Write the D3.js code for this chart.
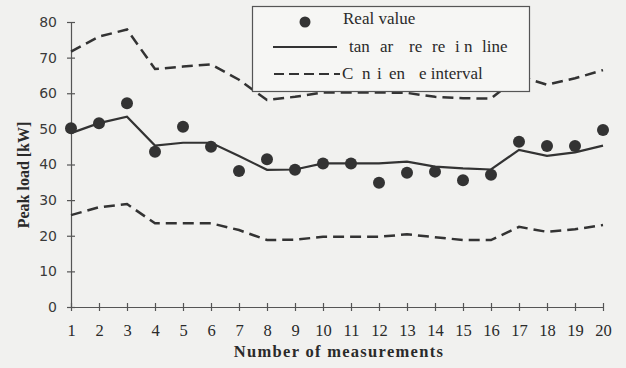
<!DOCTYPE html>
<html>
<head>
<meta charset="utf-8">
<script src="https://cdn.jsdelivr.net/npm/d3@7/dist/d3.min.js"></script>
<style>
  html, body { margin: 0; padding: 0; background: #f1f1ef; }
  svg { display: block; }
</style>
</head>
<body>
<svg id="chart" width="626" height="368"></svg>
<script>
// Measurement index 1..20
const measurements = d3.range(1, 21);
// Measured peak load [kW]
const realValue = [50.2, 51.6, 57.2, 43.6, 50.6, 45.0, 38.2, 41.5, 38.5, 40.3,
                   40.3, 34.9, 37.7, 38.0, 35.6, 37.1, 46.4, 45.2, 45.2, 49.7];
// Regression line
const regression = [48.8, 51.6, 53.4, 45.3, 46.1, 46.1, 42.4, 38.5, 38.6, 40.3,
                    40.3, 40.3, 40.8, 39.4, 38.9, 38.6, 44.1, 42.4, 43.4, 45.3];
// Confidence interval bounds
const upperBound = [71.7, 75.9, 77.9, 66.8, 67.5, 68.1, 63.8, 58.1, 59.0, 60.2,
                    60.2, 60.2, 60.1, 59.0, 58.6, 58.5, 64.8, 62.4, 64.2, 66.5];
const lowerBound = [25.8, 28.0, 28.9, 23.5, 23.5, 23.5, 21.6, 18.8, 18.9, 19.7,
                    19.7, 19.7, 20.4, 19.6, 18.8, 18.8, 22.5, 21.1, 21.8, 23.0];
const yTicks = [0, 10, 20, 30, 40, 50, 60, 70, 80];
// Legend entries, split into the word fragments that are printed
const legendLabels = [
  ["Real value"],
  ["tan", "ar", "re", "re", "i", "n", "line"],
  ["C", "n", "i", "en", "e interval"]
];
// x offsets of each fragment inside the legend
const fragmentX = [
  [343],
  [349, 380, 409, 432, 455, 464, 482],
  [342, 362, 377, 389, 419]
];

const serif = "Liberation Serif, DejaVu Serif, serif";
const svg = d3.select("#chart");
const ink = "#333";

const x = d3.scaleLinear().domain([1, 20]).range([71, 603]);
const y = d3.scaleLinear().domain([0, 80]).range([307, 22]);

// Axes
const xAxis = d3.axisBottom(x).tickValues(measurements).tickFormat(d3.format("d"))
  .tickSizeInner(4).tickSizeOuter(0).tickPadding(13);
const gx = svg.append("g").attr("transform", `translate(0,${y(0)})`).call(xAxis);
gx.selectAll(".tick line").attr("y1", -4).attr("y2", 4);
gx.selectAll(".tick text").attr("font-size", 16.5).attr("font-family", serif)
  .attr("fill", "#2a2a2a");

const yAxis = d3.axisLeft(y).tickValues(yTicks)
  .tickSizeInner(4).tickSizeOuter(0).tickPadding(10);
const gy = svg.append("g").attr("transform", `translate(${x(1)},0)`).call(yAxis);
gy.selectAll(".tick line").attr("x1", -4).attr("x2", 4);
gy.selectAll(".tick text").attr("font-size", 14).attr("font-family", "DejaVu Sans, sans-serif")
  .attr("fill", "#3a3a3a");

[gx, gy].forEach(g => {
  g.select(".domain").attr("stroke", "#555").attr("stroke-width", 1.2);
  g.selectAll(".tick line").attr("stroke", "#555").attr("stroke-width", 1.2);
});

// Axis titles
svg.append("text").attr("x", 339).attr("y", 357).attr("text-anchor", "middle")
  .attr("font-family", serif).attr("fill", "#2a2a2a")
  .attr("font-size", 16.5).attr("font-weight", "bold").attr("letter-spacing", 1.3)
  .text("Number of measurements");
svg.append("text").attr("transform", "translate(29,175) rotate(-90)")
  .attr("font-family", serif).attr("fill", "#2a2a2a")
  .attr("text-anchor", "middle").attr("font-size", 16).attr("font-weight", "bold")
  .text("Peak load [kW]");

// Lines
const line = d3.line().x((d, i) => x(measurements[i])).y(d => y(d));
const dash = "11,6";
[upperBound, lowerBound].forEach(b => {
  svg.append("path").datum(b).attr("d", line).attr("fill", "none")
    .attr("stroke", ink).attr("stroke-width", 2.5).attr("stroke-dasharray", dash);
});
svg.append("path").datum(regression).attr("d", line).attr("fill", "none")
  .attr("stroke", ink).attr("stroke-width", 2.2);

// Points
svg.append("g").selectAll("circle").data(realValue).join("circle")
  .attr("cx", (d, i) => x(measurements[i])).attr("cy", d => y(d))
  .attr("r", 6).attr("fill", ink);

// Legend
const lg = svg.append("g");
lg.append("rect").attr("x", 252.5).attr("y", 6.5).attr("width", 277).attr("height", 85)
  .attr("fill", "#f6f6f4").attr("stroke", "#555").attr("stroke-width", 1.2);
lg.append("circle").attr("cx", 305).attr("cy", 22).attr("r", 5.5).attr("fill", ink);
lg.append("line").attr("x1", 273).attr("x2", 337).attr("y1", 47).attr("y2", 47)
  .attr("stroke", ink).attr("stroke-width", 2);
lg.append("line").attr("x1", 274).attr("x2", 340).attr("y1", 74).attr("y2", 74)
  .attr("stroke", ink).attr("stroke-width", 2).attr("stroke-dasharray", "10,5");
const baselines = [24, 52, 79];
legendLabels.forEach((parts, row) => {
  const t = lg.append("text").attr("y", baselines[row]).attr("font-size", 17)
    .attr("font-family", serif).attr("fill", "#2a2a2a");
  t.selectAll("tspan").data(parts).join("tspan")
    .attr("x", (d, i) => fragmentX[row][i]).text(d => d);
});
</script>
</body>
</html>
